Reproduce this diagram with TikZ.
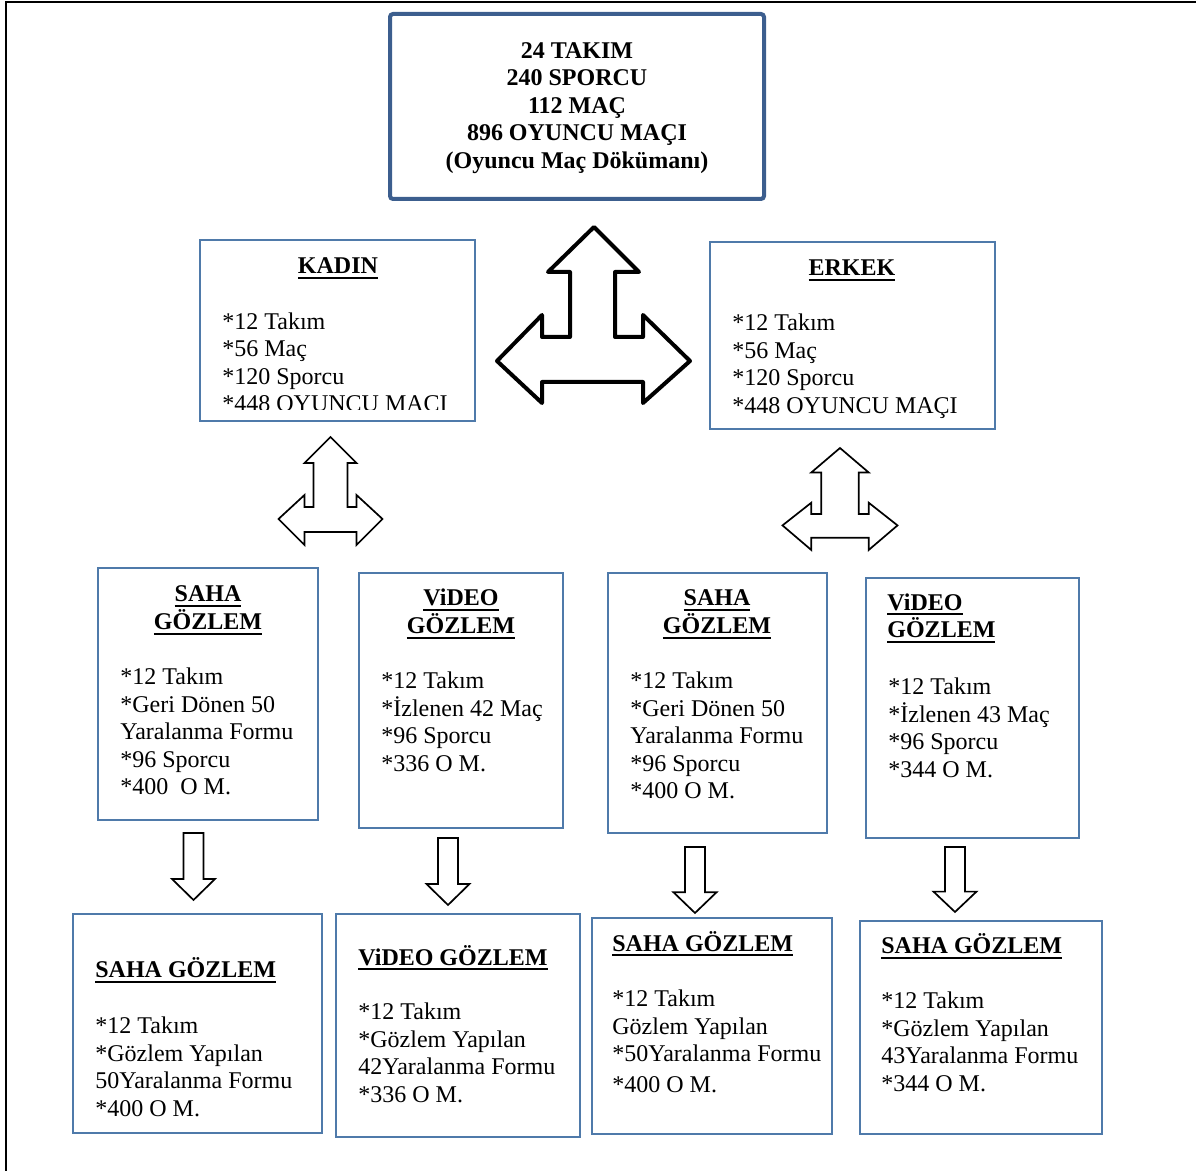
\documentclass[tikz,border=0pt]{standalone}
\usepackage{fontspec}
\setmainfont{Liberation Serif}
\usetikzlibrary{fit}
\definecolor{topblue}{RGB}{60,94,142}
\definecolor{boxblue}{RGB}{79,122,170}
\newcommand{\ulhead}[1]{\setbox0\hbox{#1}\rlap{\rule[-2.3pt]{\wd0}{0.9pt}}\box0}
\newcommand{\topstrut}{\rule{0pt}{10pt}}
\tikzset{
  bbox/.style={draw=boxblue, line width=1pt, inner sep=0pt},
  topbox/.style={draw=topblue, line width=2pt, rounded corners=1.5pt, inner sep=0pt},
  head/.style={font=\bfseries\fontsize{12pt}{14pt}\selectfont, inner sep=0pt},
  body/.style={font=\fontsize{12pt}{13.75pt}\selectfont, align=left, inner sep=0pt, anchor=north west},
  bigarrow/.style={draw=black, line width=2pt, line join=round, fill=white},
  smallarrow/.style={draw=black, line width=0.85pt, line join=miter, fill=white},
  smalltri/.pic={
    \draw[smallarrow] (-26,58) -- (-26,70) -- (-17,70) -- (-17,26) -- (-26,26) -- (0,0)
      -- (26,26) -- (17,26) -- (17,70) -- (26,70) -- (26,58) -- (52,82) -- (26,108)
      -- (26,95) -- (-26,95) -- (-26,108) -- (-52,82) -- cycle;
  },
  downarr/.pic={
    \draw[smallarrow] (-10,0) -- (10,0) -- (10,46) -- (21.5,46) -- (0,67) -- (-21.5,46) -- (-10,46) -- cycle;
  }
}
\begin{document}
\begin{tikzpicture}[x=0.5pt, y=-0.5pt]
\useasboundingbox (0,0) rectangle (1196,1171);
% outer frame (top and left edges)
\draw[line width=1pt] (6,1171) -- (6,1.7) -- (1196,1.7);

% top box
\node[topbox, fit={(390,14) (764,199)}] (top) {};
\node[font=\bfseries\fontsize{12pt}{13.75pt}\selectfont, align=center, inner sep=0pt, anchor=north] (toptext) at (577,38)
  {\topstrut 24 TAKIM\\240 SPORCU\\112 MAÇ\\896 OYUNCU MAÇI\\(Oyuncu Maç Dökümanı)};

% big triple arrow
\draw[bigarrow] (542,315) -- (542,337) -- (570,337) -- (570,272) -- (548,272) -- (594,227)
  -- (639,272) -- (615,272) -- (615,337) -- (643,337) -- (643,315) -- (690,361)
  -- (643,403) -- (643,382) -- (542,382) -- (542,403) -- (497,361) -- cycle;

% KADIN
\node[bbox, fit={(200,240) (475,421)}] (kadin) {};
\node[head, anchor=base] (kadinh) at (338,274) {\ulhead{KADIN}};
\begin{scope}
\clip (200,240) rectangle (475,410);
\node[body] (kadinb) at (222,309) {\topstrut*12 Takım\\*56 Maç\\*120 Sporcu\\*448 OYUNCU MAÇI};
\end{scope}

% ERKEK
\node[bbox, fit={(710,242) (995,429)}] (erkek) {};
\node[head, anchor=base] (erkekh) at (852,276) {\ulhead{ERKEK}};
\node[body] (erkekb) at (732,310.5) {\topstrut*12 Takım\\*56 Maç\\*120 Sporcu\\*448 OYUNCU MAÇI};

% small triple arrows
\pic at (330.5,437) {smalltri};
\pic[xscale=1.106, yscale=0.944] at (840,448) {smalltri};

% row 3
\node[bbox, fit={(98,568) (318,820)}] (b1) {};
\node[head, anchor=base] (b1h1) at (208,602) {\ulhead{SAHA}};
\node[head, anchor=base] (b1h2) at (208,630) {\ulhead{GÖZLEM}};
\node[body] (b1b) at (120,664.5) {\topstrut*12 Takım\\*Geri Dönen 50\\Yaralanma Formu\\*96 Sporcu\\*400\ \ O M.};

\node[bbox, fit={(359,573) (563,828)}] (b2) {};
\node[head, anchor=base] (b2h1) at (461,606) {\ulhead{ViDEO}};
\node[head, anchor=base] (b2h2) at (461,634) {\ulhead{GÖZLEM}};
\node[body] (b2b) at (381,668.5) {\topstrut*12 Takım\\*İzlenen 42 Maç\\*96 Sporcu\\*336 O M.};

\node[bbox, fit={(608,573) (827,833)}] (b3) {};
\node[head, anchor=base] (b3h1) at (717,606) {\ulhead{SAHA}};
\node[head, anchor=base] (b3h2) at (717,634) {\ulhead{GÖZLEM}};
\node[body] (b3b) at (630,668.5) {\topstrut*12 Takım\\*Geri Dönen 50\\Yaralanma Formu\\*96 Sporcu\\*400 O M.};

\node[bbox, fit={(866,578) (1079,838)}] (b4) {};
\node[head, anchor=base west] (b4h1) at (887,610.5) {\ulhead{ViDEO}};
\node[head, anchor=base west] (b4h2) at (887,638) {\ulhead{GÖZLEM}};
\node[body] (b4b) at (888,674.5) {\topstrut*12 Takım\\*İzlenen 43 Maç\\*96 Sporcu\\*344 O M.};

% down arrows
\pic at (193.5,833) {downarr};
\pic at (448,838) {downarr};
\pic[yscale=0.985] at (695,847) {downarr};
\pic[yscale=0.97] at (955,847) {downarr};

% row 4
\node[bbox, fit={(73,914) (322,1133)}] (c1) {};
\node[head, anchor=base west] (c1h) at (95,978) {\ulhead{SAHA GÖZLEM}};
\node[body] (c1b) at (95,1013.5) {\topstrut*12 Takım\\*Gözlem Yapılan\\50Yaralanma Formu\\*400 O M.};

\node[bbox, fit={(336,914) (580,1137)}] (c2) {};
\node[head, anchor=base west] (c2h) at (358,965) {\ulhead{ViDEO GÖZLEM}};
\node[body] (c2b) at (358,999.5) {\topstrut*12 Takım\\*Gözlem Yapılan\\42Yaralanma Formu\\*336 O M.};

\node[bbox, fit={(592,918) (832,1134)}] (c3) {};
\node[head, anchor=base west] (c3h) at (612,951.5) {\ulhead{SAHA GÖZLEM}};
\node[body] (c3b) at (612,986.5) {\topstrut*12 Takım\\Gözlem Yapılan\\*50Yaralanma Formu\\[1.75pt]*400 O M.};

\node[bbox, fit={(860,921) (1102,1134)}] (c4) {};
\node[head, anchor=base west] (c4h) at (881,954) {\ulhead{SAHA GÖZLEM}};
\node[body] (c4b) at (881,988.5) {\topstrut*12 Takım\\*Gözlem Yapılan\\43Yaralanma Formu\\*344 O M.};
\end{tikzpicture}
\end{document}
